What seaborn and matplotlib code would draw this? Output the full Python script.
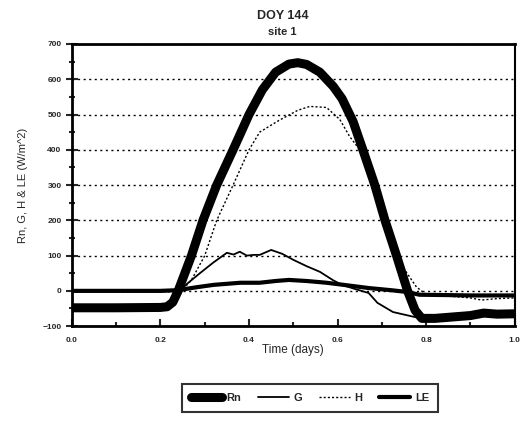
import numpy as np
import pandas as pd
import matplotlib
matplotlib.use("Agg")
import matplotlib.pyplot as plt
from matplotlib.ticker import MultipleLocator
import seaborn as sns

# values (time in days, flux in W/m^2)
rn_t = [0.0, 0.1, 0.2, 0.215, 0.228, 0.24, 0.27, 0.296, 0.327, 0.364, 0.40, 0.43, 0.46, 0.49,
        0.51, 0.53, 0.56, 0.59, 0.61, 0.635, 0.657, 0.684, 0.707, 0.733, 0.758, 0.775, 0.79,
        0.82, 0.86, 0.90, 0.93, 0.96, 1.0]
rn_v = [-48, -48, -47, -45, -32, 0, 100, 200, 300, 400, 500, 570, 620, 643,
        647, 642, 620, 580, 545, 480, 400, 300, 200, 100, 0, -55, -78,
        -78, -74, -70, -63, -66, -65]

g_t = [0.0, 0.2, 0.22, 0.24, 0.26, 0.289, 0.319, 0.35, 0.365, 0.379, 0.395, 0.41, 0.424,
       0.45, 0.475, 0.5, 0.53, 0.56, 0.59, 0.61, 0.64, 0.67, 0.69, 0.725, 0.77, 0.8,
       0.85, 0.9, 0.95, 1.0]
g_v = [-45, -45, -40, -5, 20, 50, 80, 108, 103, 111, 100, 102, 102,
       116, 105, 88, 70, 54, 30, 17, 5, -6, -34, -60, -73, -80,
       -75, -70, -65, -65]

h_t = [0.0, 0.2, 0.245, 0.26, 0.27, 0.30, 0.327, 0.364, 0.40, 0.424, 0.45, 0.47, 0.485,
       0.51, 0.537, 0.575, 0.605, 0.627, 0.65, 0.688, 0.712, 0.747, 0.778, 0.80, 0.85,
       0.90, 0.925, 0.96, 1.0]
h_v = [-3, -3, -2, 17, 31, 100, 200, 300, 400, 450, 470, 485, 495,
       512, 523, 520, 486, 438, 400, 300, 200, 68, 11, -10, -15,
       -20, -26, -22, -20]

le_t = [0.0, 0.1, 0.2, 0.24, 0.28, 0.32, 0.38, 0.424, 0.46, 0.49, 0.53, 0.575, 0.62,
        0.67, 0.72, 0.756, 0.785, 0.85, 0.90, 0.95, 1.0]
le_v = [0, 0, 0, 2, 10, 17, 23, 23, 28, 31, 28, 23, 16,
        8, 2, -3, -11, -12, -13, -13, -13]

sns.set_style("white")
plt.rcParams['font.family'] = ['Liberation Sans', 'DejaVu Sans']
plt.rcParams['font.weight'] = 'bold'

fig = plt.figure(figsize=(5.21, 4.23), dpi=100)
ax = fig.add_axes([0.138, 0.229, 0.85, 0.667])

sns.lineplot(x=rn_t, y=rn_v, ax=ax, color='black', lw=6.5, label='Rn',
             solid_capstyle='round', solid_joinstyle='round', zorder=4)
sns.lineplot(x=g_t, y=g_v, ax=ax, color='black', lw=1.3, label='G', zorder=3)
sns.lineplot(x=h_t, y=h_v, ax=ax, color='black', lw=1.0, label='H', zorder=3)
sns.lineplot(x=le_t, y=le_v, ax=ax, color='black', lw=3.0, label='LE', zorder=3)
ax.lines[2].set_linestyle((0, (1.5, 1.5)))

ax.set_xlim(0, 1.0)
ax.set_ylim(-100, 700)
ax.xaxis.set_major_locator(MultipleLocator(0.2))
ax.xaxis.set_minor_locator(MultipleLocator(0.1))
ax.yaxis.set_major_locator(MultipleLocator(100))
ax.yaxis.set_minor_locator(MultipleLocator(50))
ax.set_xticklabels([f'{v:.1f}' for v in ax.get_xticks()])

ax.yaxis.grid(True, which='major', color='black', lw=1.0, linestyle=(0, (1.5, 2.5)))
ax.set_axisbelow(True)

ax.tick_params(axis='y', which='major', direction='inout', length=8, width=1.5,
               labelsize=6, left=True)
ax.tick_params(axis='y', which='minor', direction='inout', length=5, width=1.5, left=True)
ax.tick_params(axis='x', which='major', direction='in', length=5, width=1.5,
               labelsize=6, bottom=True, pad=8)
ax.tick_params(axis='x', which='minor', direction='in', length=3, width=1.5, bottom=True)

for side in ['left', 'bottom', 'top']:
    ax.spines[side].set_linewidth(2)
    ax.spines[side].set_color('black')
ax.spines['right'].set_linewidth(1.5)
ax.spines['right'].set_color('black')

ax.set_xlabel('Time (days)', fontsize=8.5, labelpad=0)
ax.set_ylabel('Rn, G, H & LE (W/m^2)', fontsize=8, labelpad=10)

fig.text(0.542, 0.962, 'DOY 144', ha='center', va='center', fontsize=9, fontweight='bold')
fig.text(0.542, 0.924, 'site 1', ha='center', va='center', fontsize=8, fontweight='bold')

ax.legend(loc='center', bbox_to_anchor=(0.595, 0.059), bbox_transform=fig.transFigure,
          ncol=4, frameon=True, fancybox=False, edgecolor='black', fontsize=8,
          handlelength=2.8, handletextpad=0.4, columnspacing=1.5,
          borderpad=0.8).get_frame().set_linewidth(1.5)

fig.savefig('out.png', dpi=100)
